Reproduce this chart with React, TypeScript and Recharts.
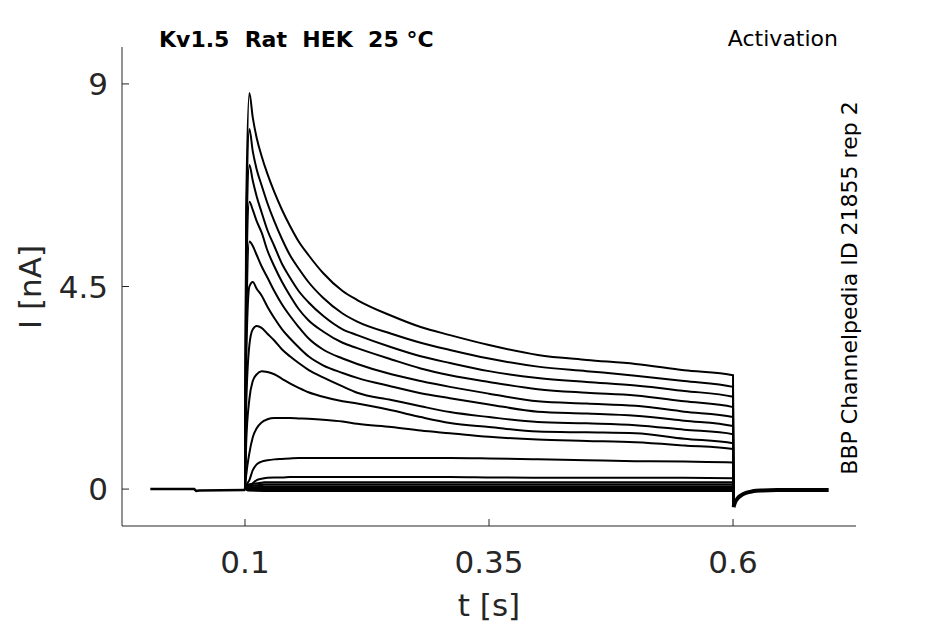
import React from "react";
import { LineChart, Line, XAxis, YAxis } from "recharts";

// sample times (s) shared by the activation traces during the voltage step
const PULSE_T = [
  0.1, 0.1012, 0.1045, 0.108, 0.112, 0.117, 0.123, 0.13, 0.138, 0.146, 0.155, 0.165, 0.18,
  0.2, 0.215, 0.25, 0.28, 0.31, 0.35, 0.4, 0.45, 0.5, 0.55, 0.6, 0.6005,
];

// current (nA) of each trace at PULSE_T, largest step first
const TRACE_1 = [0, 6.2, 8.8, 8.25, 7.8, 7.4, 7.0, 6.6, 6.2, 5.85, 5.5, 5.2, 4.8, 4.4, 4.2, 3.85, 3.6, 3.42, 3.2, 2.98, 2.87, 2.78, 2.64, 2.53, -0.4];
const TRACE_2 = [0, 5.6, 8.0, 7.5, 7.1, 6.75, 6.35, 5.95, 5.55, 5.2, 4.9, 4.6, 4.25, 3.9, 3.72, 3.45, 3.25, 3.09, 2.9, 2.72, 2.62, 2.52, 2.4, 2.27, -0.4];
const TRACE_3 = [0, 5.0, 7.2, 6.85, 6.5, 6.15, 5.75, 5.4, 5.0, 4.7, 4.4, 4.15, 3.85, 3.55, 3.42, 3.15, 2.95, 2.8, 2.62, 2.47, 2.38, 2.3, 2.18, 2.05, -0.4];
const TRACE_4 = [0, 4.4, 6.38, 6.2, 5.95, 5.7, 5.3, 4.95, 4.6, 4.3, 4.0, 3.75, 3.5, 3.25, 3.13, 2.88, 2.68, 2.53, 2.38, 2.22, 2.14, 2.08, 1.95, 1.82, -0.4];
const TRACE_5 = [0, 3.4, 5.5, 5.4, 5.2, 4.95, 4.7, 4.4, 4.1, 3.85, 3.6, 3.35, 3.1, 2.9, 2.78, 2.55, 2.4, 2.27, 2.12, 1.95, 1.9, 1.85, 1.72, 1.6, -0.4];
const TRACE_6 = [0, 2.8, 4.5, 4.6, 4.45, 4.3, 4.05, 3.8, 3.55, 3.35, 3.15, 2.95, 2.75, 2.58, 2.47, 2.28, 2.13, 2.02, 1.88, 1.72, 1.68, 1.63, 1.52, 1.4, -0.4];
const TRACE_7 = [0, 1.8, 3.2, 3.55, 3.62, 3.58, 3.45, 3.3, 3.1, 2.95, 2.8, 2.65, 2.48, 2.28, 2.14, 1.98, 1.84, 1.71, 1.6, 1.49, 1.46, 1.42, 1.32, 1.22, -0.4];
const TRACE_8 = [0, 1.0, 2.0, 2.4, 2.55, 2.62, 2.6, 2.55, 2.45, 2.35, 2.25, 2.15, 2.05, 1.95, 1.9, 1.75, 1.6, 1.47, 1.38, 1.28, 1.26, 1.24, 1.12, 1.02, -0.4];
const TRACE_9 = [0, 0.3, 0.8, 1.15, 1.35, 1.48, 1.55, 1.58, 1.58, 1.58, 1.57, 1.56, 1.54, 1.5, 1.45, 1.38, 1.3, 1.24, 1.16, 1.1, 1.07, 1.04, 0.97, 0.89, -0.4];
const TRACE_10 = [0, 0.08, 0.2, 0.42, 0.55, 0.61, 0.64, 0.66, 0.67, 0.68, 0.69, 0.69, 0.69, 0.69, 0.69, 0.69, 0.69, 0.69, 0.68, 0.66, 0.64, 0.62, 0.61, 0.59, -0.4];
const TRACE_11 = [0, 0.03, 0.07, 0.13, 0.2, 0.23, 0.25, 0.26, 0.26, 0.27, 0.27, 0.27, 0.27, 0.27, 0.27, 0.27, 0.27, 0.27, 0.26, 0.25, 0.25, 0.25, 0.25, 0.24, -0.4];

// small steps that stay near zero
const FLAT_T = [0.1, 0.103, 0.12, 0.6, 0.6005];
const FLAT_1 = [0, 0.1, 0.15, 0.15, -0.4];
const FLAT_2 = [0, 0.06, 0.1, 0.1, -0.4];
const FLAT_3 = [0, 0.03, 0.05, 0.05, -0.4];
const FLAT_4 = [0, 0.0, 0.0, 0.0, -0.4];
const FLAT_5 = [0, -0.03, -0.04, -0.04, -0.4];

// holding current before and after the step (all traces overlap)
const PRE_T = [0.003, 0.048, 0.05, 0.053, 0.1];
const PRE_V = [0, 0, -0.04, -0.03, -0.02];
const TAIL_T = [0.6005, 0.602, 0.605, 0.609, 0.614, 0.62, 0.63, 0.645, 0.698];
const TAIL_V = [-0.4, -0.3, -0.2, -0.13, -0.08, -0.05, -0.03, -0.02, -0.02];

const X_TICKS = [0.1, 0.35, 0.6];
const Y_TICKS = [0, 4.5, 9];

const STEP_TRACES = [TRACE_1, TRACE_2, TRACE_3, TRACE_4, TRACE_5, TRACE_6, TRACE_7, TRACE_8, TRACE_9, TRACE_10, TRACE_11];
const FLAT_TRACES = [FLAT_1, FLAT_2, FLAT_3, FLAT_4, FLAT_5];

const toPoints = (ts: number[], vs: number[]) => ts.map((t, i) => ({ t, v: vs[i] }));

const FONT = "'DejaVu Sans', sans-serif";
const AXIS = "#262626";

const XTick = ({ x, y, payload }: any) => (
  <g>
    <line x1={x} x2={x} y1={y} y2={y - 7} stroke={AXIS} strokeWidth={1} />
    <text x={x} y={y + 47} textAnchor="middle" fontSize={31} fontFamily={FONT} fill={AXIS}>
      {payload.value}
    </text>
  </g>
);

const YTick = ({ x, y, payload }: any) => (
  <g>
    <line x1={x} x2={x + 7} y1={y} y2={y} stroke={AXIS} strokeWidth={1} />
    <text x={x - 14} y={y + 11} textAnchor="end" fontSize={31} fontFamily={FONT} fill={AXIS}>
      {payload.value}
    </text>
  </g>
);

export default function App() {
  return (
    <div style={{ position: "absolute", left: 0, top: 0, width: 945, height: 624, background: "#fff" }}>
      <LineChart width={945} height={624} margin={{ top: 47, right: 89, left: 121, bottom: 97 }}>
        <XAxis
          type="number"
          dataKey="t"
          domain={[-0.026, 0.726]}
          ticks={X_TICKS}
          allowDataOverflow
          height={1}
          tickSize={0}
          tickMargin={0}
          tick={XTick}
          axisLine={{ stroke: AXIS, strokeWidth: 1 }}
          tickLine={false}
        />
        <YAxis
          type="number"
          dataKey="v"
          domain={[-0.82, 9.82]}
          ticks={Y_TICKS}
          allowDataOverflow
          width={1}
          tickSize={0}
          tickMargin={0}
          tick={YTick}
          axisLine={{ stroke: AXIS, strokeWidth: 1 }}
          tickLine={false}
        />
        <Line
          data={toPoints(PRE_T, PRE_V)}
          dataKey="v"
          type="linear"
          stroke="#000"
          strokeWidth={2.5}
          dot={false}
          isAnimationActive={false}
        />
        {FLAT_TRACES.map((vals, i) => (
          <Line
            key={`flat-${i}`}
            data={toPoints(FLAT_T, vals)}
            dataKey="v"
            type="linear"
            stroke="#000"
            strokeWidth={2.2}
            dot={false}
            isAnimationActive={false}
          />
        ))}
        {STEP_TRACES.map((vals, i) => (
          <Line
            key={`step-${i}`}
            data={toPoints(PULSE_T, vals)}
            dataKey="v"
            type="monotone"
            stroke="#000"
            strokeWidth={2}
            dot={false}
            isAnimationActive={false}
          />
        ))}
        <Line
          data={toPoints(TAIL_T, TAIL_V)}
          dataKey="v"
          type="monotone"
          stroke="#000"
          strokeWidth={4}
          dot={false}
          isAnimationActive={false}
        />
      </LineChart>
      <svg
        width={945}
        height={624}
        style={{ position: "absolute", left: 0, top: 0, pointerEvents: "none" }}
      >
        <text x={159} y={47} fontSize={22} fontWeight="bold" fontFamily={FONT} fill="#000" style={{ whiteSpace: "pre" }}>
          {"Kv1.5  Rat  HEK  25 °C"}
        </text>
        <text x={838} y={46} textAnchor="end" fontSize={22} fontFamily={FONT} fill="#000">
          Activation
        </text>
        <text x={489} y={616} textAnchor="middle" fontSize={31} fontFamily={FONT} fill={AXIS}>
          t [s]
        </text>
        <text
          transform="translate(41,287) rotate(-90)"
          textAnchor="middle"
          fontSize={31}
          fontFamily={FONT}
          fill={AXIS}
        >
          I [nA]
        </text>
        <text
          transform="translate(857,288) rotate(-90)"
          textAnchor="middle"
          fontSize={22}
          fontFamily={FONT}
          fill="#000"
        >
          BBP Channelpedia ID 21855 rep 2
        </text>
      </svg>
    </div>
  );
}
